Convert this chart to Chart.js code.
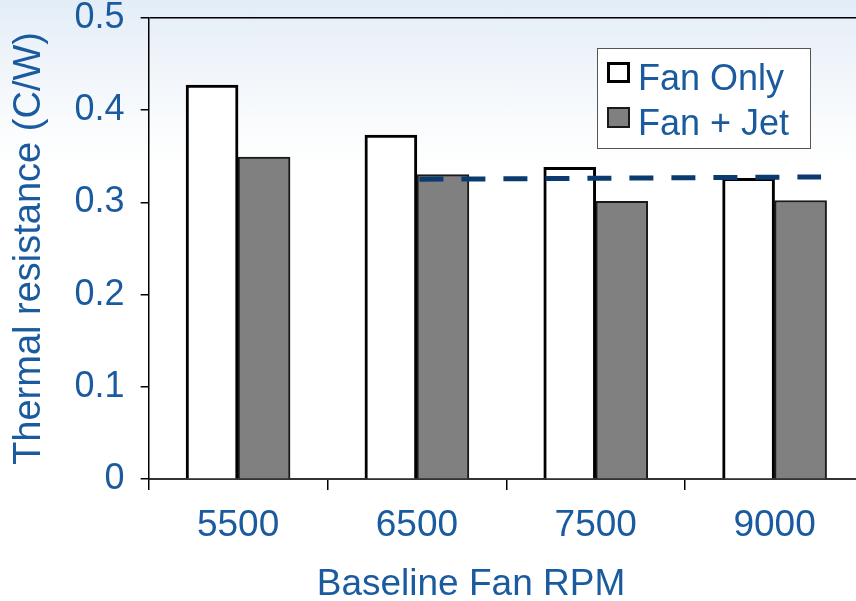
<!DOCTYPE html>
<html>
<head>
<meta charset="utf-8">
<script src="https://cdn.jsdelivr.net/npm/chart.js@4/dist/chart.umd.min.js"></script>
<style>
  html, body {
    margin: 0;
    padding: 0;
    width: 856px;
    height: 601px;
    overflow: hidden;
    background: linear-gradient(to bottom, #e3edf7 0px, #edf3f9 50px, #f9fbfd 120px, #ffffff 170px);
  }
  #wrap { position: relative; width: 864px; height: 601px; }
</style>
</head>
<body>
<div id="wrap"><canvas id="chart" width="864" height="601"></canvas></div>
<script>
const categories = ["5500", "6500", "7500", "9000"];
const fanOnly = [0.427, 0.373, 0.338, 0.326];
const fanJet = [0.349, 0.330, 0.301, 0.302];
const seriesNames = ["Fan Only", "Fan + Jet"];
const yTickLabels = ["0", "0.1", "0.2", "0.3", "0.4", "0.5"];
// dashed reference level; x is in category widths from the y axis
const refLineX = [1.514, 3.76];
const refLineY = [0.325, 0.3275];
const xTitle = "Baseline Fan RPM";
const yTitle = "Thermal resistance (C/W)";

const BLUE = "#1a5b9f";
const FONT = "'Liberation Sans', Arial, sans-serif";

// Boxed legend like the original (Chart.js has no legend frame),
// plus the x title, which sits left of the axis centre in the original
const extras = {
  id: "extras",
  afterDraw(chart) {
    const ctx = chart.ctx;
    ctx.save();
    ctx.fillStyle = "#fff";
    ctx.fillRect(597, 48, 213, 100);
    ctx.strokeStyle = "#555";
    ctx.lineWidth = 1;
    ctx.strokeRect(597.5, 48.5, 213, 100);
    ctx.font = "36px " + FONT;
    ctx.textBaseline = "alphabetic";
    chart.data.datasets
      .filter(ds => ds.type !== "line")
      .forEach((ds, i) => {
        const y = 62 + i * 45;
        const lw = ds.borderWidth;
        ctx.fillStyle = ds.backgroundColor;
        ctx.fillRect(607, y, 23, 21);
        ctx.strokeStyle = ds.borderColor;
        ctx.lineWidth = lw;
        ctx.strokeRect(607 + lw / 2, y + lw / 2, 23 - lw, 21 - lw);
        ctx.fillStyle = BLUE;
        ctx.fillText(ds.label, 638, y + 28);
      });

    ctx.font = "37px " + FONT;
    ctx.fillStyle = BLUE;
    ctx.textAlign = "center";
    ctx.textBaseline = "middle";
    ctx.fillText(xTitle, 471, 585);
    ctx.restore();
  }
};

new Chart(document.getElementById("chart"), {
  type: "bar",
  data: {
    labels: categories,
    datasets: [
      {
        type: "line",
        label: "level",
        data: refLineX.map((x, i) => ({ x: x, y: refLineY[i] })),
        xAxisID: "x2",
        borderColor: "#0a3a6e",
        borderWidth: 5,
        borderDash: [24, 18],
        pointRadius: 0,
        pointHoverRadius: 0,
        fill: false,
        order: 0
      },
      {
        label: seriesNames[0],
        data: fanOnly,
        backgroundColor: "#ffffff",
        borderColor: "#000000",
        borderWidth: 3,
        barThickness: 52,
        order: 1
      },
      {
        label: seriesNames[1],
        data: fanJet,
        backgroundColor: "#808080",
        borderColor: "#1a1a1a",
        borderWidth: 2,
        barThickness: 52,
        order: 1
      }
    ]
  },
  options: {
    responsive: false,
    animation: false,
    layout: { padding: { top: 0, bottom: 40.5, left: 0, right: 0 }, autoPadding: false },
    plugins: {
      legend: { display: false },
      tooltip: { enabled: false }
    },
    scales: {
      x: {
        grid: {
          offset: true,
          drawOnChartArea: false,
          tickLength: 11,
          color: "#000",
          lineWidth: 1.5
        },
        border: { display: true, color: "#333", width: 2 },
        ticks: {
          color: BLUE,
          padding: 13,
          font: { family: FONT, size: 37, lineHeight: 1.2 }
        }
      },
      x2: {
        type: "linear",
        display: false,
        offset: false,
        min: 0,
        max: categories.length
      },
      y: {
        min: 0,
        max: 0.5,
        grid: {
          color: ctx => (ctx.tick && ctx.tick.value === 0.5 ? "#000" : "transparent"),
          tickColor: "#000",
          tickLength: 8,
          lineWidth: 1.5
        },
        border: { display: true, color: "#000", width: 1.5 },
        ticks: {
          stepSize: 0.1,
          color: BLUE,
          padding: 16,
          font: { family: FONT, size: 36, lineHeight: 0.1 },
          callback: (v, i) => yTickLabels[i]
        },
        title: {
          display: true,
          text: yTitle,
          color: BLUE,
          padding: { top: 7, bottom: 6 },
          font: { family: FONT, size: 38, lineHeight: 1.2 }
        }
      }
    }
  },
  plugins: [extras]
});
</script>
</body>
</html>
